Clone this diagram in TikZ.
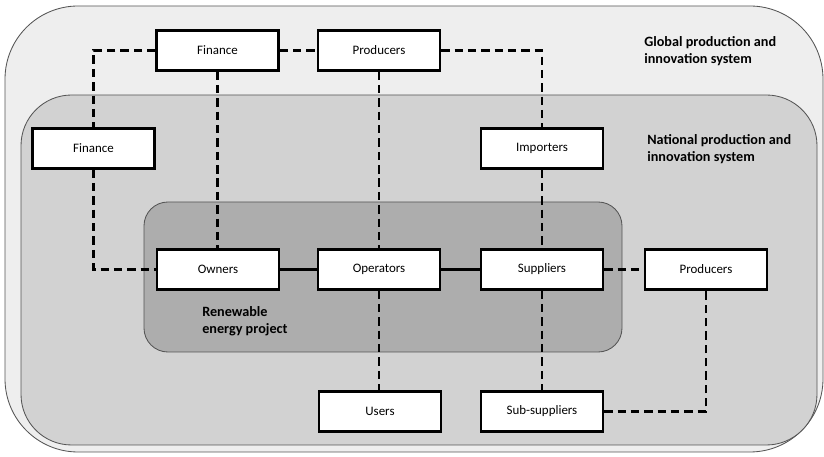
\documentclass[tikz,border=0pt]{standalone}
\usepackage{fontspec}
\setmainfont{Carlito}
\usetikzlibrary{positioning, calc}
\definecolor{globalfill}{HTML}{EEEEEE}
\definecolor{nationalfill}{HTML}{D2D2D2}
\definecolor{projectfill}{HTML}{ADADAD}
\definecolor{zoneline}{HTML}{555555}
\tikzset{
  actor/.style={draw=black, line width=1.6pt, fill=white, minimum width=3.05cm,
    minimum height=1.0cm, inner sep=2pt, font=\fontsize{9.2}{11}\selectfont},
  zone/.style={draw=zoneline, line width=0.6pt},
  zonelabel/.style={anchor=north west, inner sep=0pt, align=left,
    font=\fontsize{10.1}{12.2}\selectfont\bfseries},
  link/.style={line width=1.6pt, dash pattern=on 6pt off 3.5pt},
  tie/.style={line width=1.6pt}
}

\begin{document}
\begin{tikzpicture}[x=0.025cm, y=-0.025cm] % pixel grid of the reference
\useasboundingbox (0,0) rectangle (824,457);

% the three nested systems
\draw[zone, fill=globalfill, rounded corners=52pt] (5,6) rectangle (823,452);
\draw[zone, fill=nationalfill, rounded corners=36pt] (21,95) rectangle (817,445);
\draw[zone, fill=projectfill, rounded corners=17pt] (144,202) rectangle (622,352);

\node[zonelabel] (globallbl) at (644,36) {Global production and\\innovation system};
\node[zonelabel] (nationallbl) at (647,134) {National production and\\innovation system};
\node[zonelabel] (projectlbl) at (202,306) {Renewable\\energy project};

% actors
\node[actor] (finglobal) at (217.5,50.5) {Finance};
\node[actor] (prodglobal) at (379,50.5) {Producers};
\node[actor] (finnat) at (93.5,148.5) {Finance};
\node[actor] (importers) at (542,148.5) {Importers};
\node[actor] (owners) at (218,269.5) {Owners};
\node[actor] (operators) at (379,269.5) {Operators};
\node[actor] (suppliers) at (542,269.5) {Suppliers};
\node[actor] (prodnat) at (706,269.5) {Producers};
\node[actor] (users) at (380,411.5) {Users};
\node[actor] (subsup) at (542,411.5) {Sub-suppliers};

% links
\draw[link] (finglobal.west) -| (finnat.north);
\draw[link] (finglobal.east) -- (prodglobal.west);
\draw[link] (prodglobal.east) -| (importers.north);
\draw[link] (finglobal.south) -- (finglobal.south |- owners.north);
\draw[link] (prodglobal.south) -- (prodglobal.south |- operators.north);
\draw[link] (finnat.south) |- (owners.west);
\draw[link] (importers.south) -- (suppliers.north);
\draw[tie] (owners.east) -- (operators.west);
\draw[tie] (operators.east) -- (suppliers.west);
\draw[link] (suppliers.east) -- (prodnat.west);
\draw[link] (operators.south) -- (operators.south |- users.north);
\draw[link] (suppliers.south) -- (subsup.north);
\draw[link] (subsup.east) -| (prodnat.south);

\end{tikzpicture}
\end{document}
